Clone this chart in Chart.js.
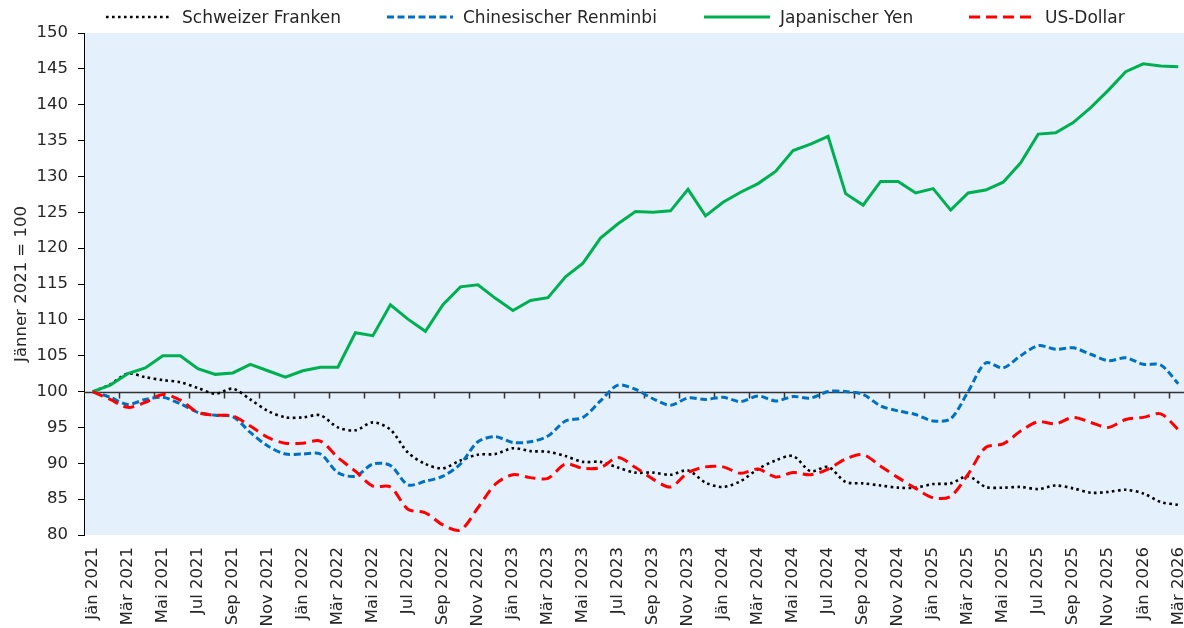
<!DOCTYPE html>
<html>
<head>
<meta charset="utf-8">
<script src="https://cdn.jsdelivr.net/npm/chart.js@4.4.1/dist/chart.umd.min.js"></script>
<style>
  html, body { margin: 0; padding: 0; background: #fff; overflow: hidden; }
  #wrap { position: relative; width: 1187px; height: 628px; font-family: 'DejaVu Sans', sans-serif; }
  #legend { position: absolute; top: 0; left: 0; width: 1187px; height: 33px; }
  .item { position: absolute; top: 7px; display: flex; align-items: center; font-size: 17px; color: #262626; white-space: nowrap; }
  .item svg { margin-right: 10px; }
</style>
</head>
<body>
<div id="wrap">
  <div id="legend"></div>
  <canvas id="fxChart" width="1187" height="628"></canvas>
</div>
<script>
// categories
const monthNames = ['Jän', 'Feb', 'Mär', 'Apr', 'Mai', 'Jun', 'Jul', 'Aug', 'Sep', 'Okt', 'Nov', 'Dez'];
const years = [2021, 2022, 2023, 2024, 2025, 2026];
const lastMonthIndex = 2; // Mär 2026

const labels = [];
years.forEach(function(yr) {
    monthNames.forEach(function(m, mi) {
        if (yr === 2026 && mi > lastMonthIndex) return;
        labels.push(m + ' ' + yr);
    });
});

// index values, Jänner 2021 = 100
const chf = [100, 101.0, 102.5, 102.0, 101.6, 101.3, 100.5, 99.7, 100.4, 98.9, 97.3, 96.4,
    96.4, 96.7, 95.0, 94.6, 95.7, 94.7, 91.5, 89.9, 89.3, 90.4, 91.2, 91.3,
    92.1, 91.7, 91.6, 91.0, 90.2, 90.2, 89.4, 88.7, 88.7, 88.4, 89.0, 87.3,
    86.7, 87.5, 89.2, 90.4, 91.0, 88.9, 89.5, 87.4, 87.2, 86.9, 86.6, 86.6,
    87.1, 87.2, 88.2, 86.7, 86.6, 86.7, 86.4, 86.9, 86.5, 85.9, 86.0, 86.3,
    85.8, 84.6, 84.2];
const cny = [100, 99.2, 98.2, 98.9, 99.2, 98.3, 97.1, 96.7, 96.5, 94.3, 92.4, 91.3,
    91.3, 91.3, 88.7, 88.2, 89.9, 89.7, 87.0, 87.5, 88.2, 89.9, 93.0, 93.7,
    92.9, 93.0, 93.8, 95.9, 96.4, 98.7, 100.9, 100.3, 99.0, 98.1, 99.1, 98.9,
    99.2, 98.6, 99.4, 98.7, 99.3, 99.1, 100.0, 100.0, 99.6, 98.0, 97.3, 96.8,
    95.9, 96.2, 100.0, 104.0, 103.3, 105.0, 106.4, 105.9, 106.1, 105.2, 104.3, 104.7,
    103.8, 103.7, 101.1];
const jpy = [100, 100.9, 102.5, 103.3, 105.0, 105.0, 103.2, 102.4, 102.6, 103.8, 102.9, 102.0,
    102.9, 103.4, 103.4, 108.2, 107.8, 112.1, 110.1, 108.4, 112.1, 114.6, 114.9, 113.0,
    111.3, 112.7, 113.1, 116.0, 117.9, 121.4, 123.4, 125.1, 125.0, 125.2, 128.2, 124.5,
    126.4, 127.8, 129.0, 130.7, 133.6, 134.5, 135.6, 127.6, 126.0, 129.3, 129.3, 127.7,
    128.3, 125.3, 127.7, 128.1, 129.2, 131.9, 135.9, 136.1, 137.5, 139.6, 142.0, 144.6,
    145.7, 145.4, 145.3];
const usd = [100, 98.9, 97.8, 98.5, 99.6, 98.8, 97.1, 96.7, 96.6, 95.2, 93.6, 92.8,
    92.8, 93.1, 90.8, 88.9, 86.8, 86.7, 83.6, 83.1, 81.4, 80.7, 83.8, 87.1,
    88.4, 88.0, 87.9, 89.9, 89.3, 89.4, 90.8, 89.4, 87.8, 86.7, 88.7, 89.5,
    89.5, 88.6, 89.2, 88.1, 88.7, 88.4, 89.2, 90.6, 91.2, 89.6, 88.0, 86.5,
    85.2, 85.4, 88.5, 92.2, 92.7, 94.5, 95.8, 95.5, 96.4, 95.7, 95.0, 96.1,
    96.4, 96.9, 94.7];

const baseValue = 100;
const yTicks = { min: 80, max: 150, step: 5 };

const FONT = "'DejaVu Sans', sans-serif";
const TEXT = '#262626';

const datasets = [
    { label: 'Schweizer Franken', data: chf, borderColor: '#000000', borderWidth: 2.6,
      borderDash: [2.6, 3.4], tension: 0.3, order: 4 },
    { label: 'Chinesischer Renminbi', data: cny, borderColor: '#0070C0', borderWidth: 3,
      borderDash: [7, 3.5], tension: 0.3, order: 3 },
    { label: 'Japanischer Yen', data: jpy, borderColor: '#00B050', borderWidth: 3,
      borderDash: [], tension: 0, order: 2 },
    { label: 'US-Dollar', data: usd, borderColor: '#FF0000', borderWidth: 3,
      borderDash: [11, 6], tension: 0.3, order: 1 }
];
datasets.forEach(function(ds) {
    ds.pointRadius = 0;
    ds.pointHoverRadius = 0;
    ds.fill = false;
    ds.borderCapStyle = 'butt';
});

// legend built from the dataset styles
const legendX = [106, 387, 704, 969];
const legendEl = document.getElementById('legend');
datasets.forEach(function(ds, i) {
    const item = document.createElement('div');
    item.className = 'item';
    item.style.left = legendX[i] + 'px';
    const dash = ds.borderDash.length ? ds.borderDash.join(' ') : 'none';
    item.innerHTML = '<svg width="66" height="8"><line x1="0" y1="4" x2="66" y2="4" stroke="' + ds.borderColor +
        '" stroke-width="' + ds.borderWidth + '" stroke-dasharray="' + dash + '"/></svg>' +
        '<span>' + ds.label + '</span>';
    legendEl.appendChild(item);
});

// plot background and the horizontal axis at 100 with its tick marks
const plotDecor = {
    id: 'plotDecor',
    beforeDraw(chart) {
        const { ctx, chartArea: a } = chart;
        ctx.save();
        ctx.fillStyle = '#E4F1FC';
        ctx.fillRect(a.left, a.top, a.right - a.left, a.bottom - a.top);
        ctx.restore();
    },
    beforeDatasetsDraw(chart) {
        const { ctx, chartArea: a, scales } = chart;
        const y0 = Math.round(scales.y.getPixelForValue(baseValue)) + 0.5;
        ctx.save();
        ctx.strokeStyle = '#333333';
        ctx.lineWidth = 1.5;
        ctx.beginPath();
        ctx.moveTo(a.left, y0);
        ctx.lineTo(a.right, y0);
        for (let i = 2; i < labels.length; i += 2) {
            const px = Math.round(scales.x.getPixelForValue(i - 0.5)) + 0.5;
            ctx.moveTo(px, y0);
            ctx.lineTo(px, y0 + 6);
        }
        ctx.stroke();
        ctx.restore();
    }
};

const ctx = document.getElementById('fxChart').getContext('2d');
const fxChart = new Chart(ctx, {
    type: 'line',
    data: { labels: labels, datasets: datasets },
    plugins: [plotDecor],
    options: {
        responsive: false,
        animation: false,
        layout: { padding: { top: 33, left: 0, right: 0, bottom: 0 } },
        plugins: {
            legend: { display: false },
            tooltip: { enabled: false }
        },
        scales: {
            x: {
                offset: true,
                grid: { display: false, offset: true },
                border: { display: false },
                ticks: {
                    autoSkip: false,
                    minRotation: 90,
                    maxRotation: 90,
                    padding: 4,
                    color: TEXT,
                    font: { family: FONT, size: 16.5 },
                    callback: function(value, index) {
                        return index % 2 === 0 ? labels[index] : '';
                    }
                },
                afterFit: function(scale) {
                    scale.height = 93;
                    scale.paddingLeft = 0;
                    scale.paddingRight = 0;
                }
            },
            y: {
                min: yTicks.min,
                max: yTicks.max,
                ticks: {
                    stepSize: yTicks.step,
                    padding: 10,
                    color: TEXT,
                    font: { family: FONT, size: 16.5 }
                },
                grid: { drawOnChartArea: false, drawTicks: true, tickLength: 6, color: '#000000' },
                border: { display: true, color: '#000000', width: 1 },
                title: {
                    display: true,
                    text: 'Jänner 2021 = 100',
                    color: TEXT,
                    font: { family: FONT, size: 16.5 },
                    padding: { top: 12, bottom: 0 }
                },
                afterFit: function(scale) { scale.width = 84; }
            }
        }
    }
});
</script>
</body>
</html>
